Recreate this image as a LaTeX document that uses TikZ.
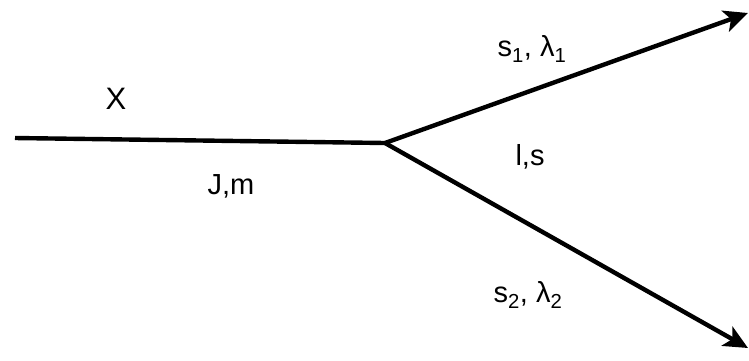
\documentclass[tikz,border=0pt]{standalone}
\usepackage{fontspec}
\setmainfont{Liberation Sans}
\usetikzlibrary{arrows.meta}

\tikzset{
  leg/.style = {line width = 4.4pt},
  legarrow/.style = {leg, -{Stealth[length = 24pt, width = 22pt, inset = 6pt]}},
  lbl/.style = {inner sep = 0pt, font = \fontsize{29}{34}\selectfont}
}

\begin{document}
\begin{tikzpicture}[x = 1pt, y = -1pt]
\useasboundingbox (0,0) rectangle (749,360);
\coordinate (IN) at (15,138);
\coordinate (V) at (385,143);
\coordinate (OUT1) at (748,13);
\coordinate (OUT2) at (748,348);

\draw[leg] (IN) -- (V);
\draw[legarrow] (V) -- (OUT1);
\draw[legarrow] (V) -- (OUT2);

\node[lbl, font = \fontsize{31}{36}\selectfont] (X) at (116,99) {X};
\node[lbl] (JM) at (231,186) {J,m};
\node[lbl] (S1) at (532,49) {s\textsubscript{1}, λ\textsubscript{1}};
\node[lbl] (LS) at (530,157) {l,s};
\node[lbl] (S2) at (528,295) {s\textsubscript{2}, λ\textsubscript{2}};
\end{tikzpicture}
\end{document}
